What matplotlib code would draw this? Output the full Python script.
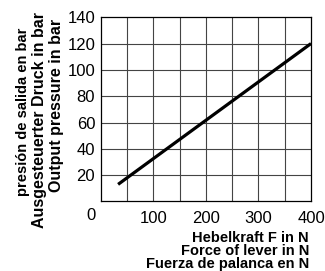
import matplotlib
matplotlib.use('Agg')
from matplotlib import pyplot as plt

plt.rcParams['font.family'] = ['Liberation Sans', 'DejaVu Sans']

# Hebelkraft F (N) vs output pressure (bar)
force = [33, 400]
pressure = [13, 120]

xticks = [100, 200, 300, 400]
yticks = [20, 40, 60, 80, 100, 120, 140]
ylabels = ['presión de salida en bar', 'Ausgesteuerter Druck in bar', 'Output pressure in bar']
xlabels = ['Hebelkraft F in N', 'Force of lever in N', 'Fuerza de palanca en N']

fig = plt.figure(figsize=(3.25, 2.71), dpi=100)
ax = fig.add_axes([0.310, 0.2565, 0.647, 0.680])

ax.set_xlim(0, 400)
ax.set_ylim(0, 140)
for x in range(50, 400, 50):
    ax.axvline(x, color='#444444', lw=0.8, zorder=1)
for y in range(20, 140, 20):
    ax.axhline(y, color='#444444', lw=0.8, zorder=1)

ax.plot(force, pressure, color='black', lw=2.3, solid_capstyle='butt', zorder=3)

ax.set_xticks(xticks)
ax.set_yticks(yticks)
ax.tick_params(length=0, labelsize=12, colors='black')
ax.tick_params(axis='x', pad=7)
ax.tick_params(axis='y', pad=4)
for s in ax.spines.values():
    s.set_linewidth(0.9)

# corner zero
ax.text(-18, -11, '0', ha='center', va='center', fontsize=12, clip_on=False)

# stacked axis titles
fig.text(23 / 325, 1 - 112 / 271, ylabels[0], rotation=90, ha='center', va='center',
         fontsize=10.5, fontweight='bold')
fig.text(40 / 325, 1 - 120 / 271, ylabels[1], rotation=90, ha='center', va='center',
         fontsize=11.5, fontweight='bold')
fig.text(57 / 325, 1 - 105 / 271, ylabels[2], rotation=90, ha='center', va='center',
         fontsize=11.5, fontweight='bold')

fig.text(309 / 325, 1 - 251 / 271, '\n'.join(xlabels), ha='right', va='center',
         multialignment='right', linespacing=0.9, fontsize=10.5, fontweight='bold')

fig.savefig('out.png', dpi=100)
